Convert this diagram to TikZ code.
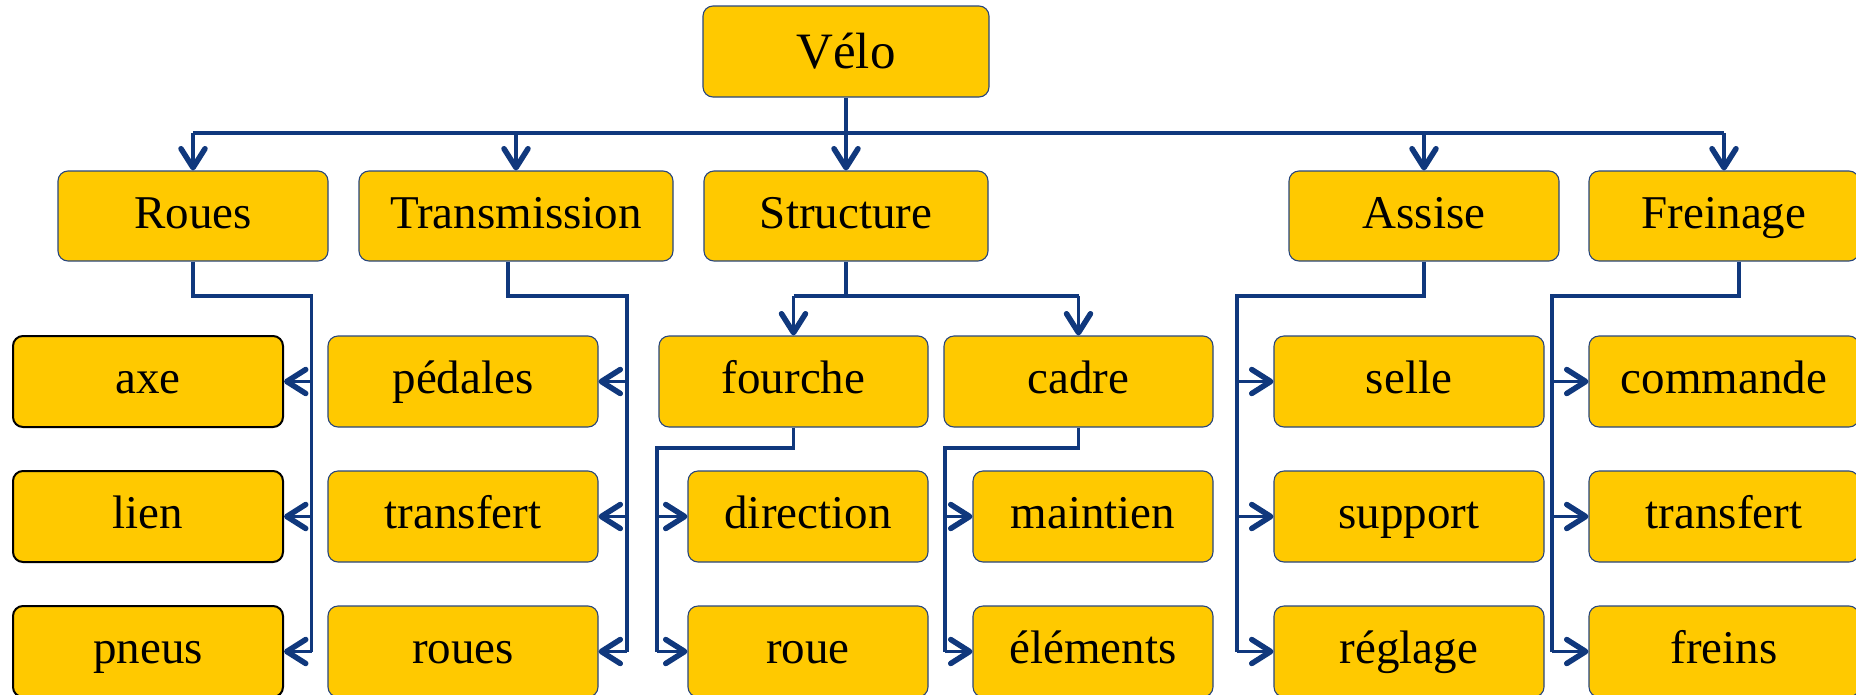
\documentclass[tikz,border=0pt]{standalone}
\usepackage{fontspec}
\setmainfont{Liberation Serif}
\usetikzlibrary{arrows.meta}
\definecolor{boxfill}{RGB}{255,201,0}
\definecolor{boxedge}{RGB}{40,70,125}
\definecolor{wire}{RGB}{16,56,125}
\tikzset{
  box/.style={draw=boxedge, line width=1.1pt, fill=boxfill, rounded corners=10pt,
    inner sep=0pt, minimum width=270pt, minimum height=91pt,
    text height=34pt, text depth=10pt, font=\fontsize{47}{53}\selectfont},
  darkbox/.style={box, draw=black, line width=2pt},
  wireline/.style={draw=wire, line width=3.2pt},
  feed/.style={wireline, -{Straight Barb[length=19pt,width=24pt,line width'=5.5pt,round]}},
}
\begin{document}
\begin{tikzpicture}[x=1pt,y=-1pt]
\useasboundingbox (0,0) rectangle (1856,694);

% root
\node[box, minimum width=286pt, text height=42pt, text depth=9pt,
      font=\fontsize{51}{57}\selectfont] (velo) at (846,51.5) {Vélo};

% first level
\node[box, minimum height=90pt] (roues)  at (193,216)  {Roues};
\node[box, minimum height=90pt, minimum width=314pt] (trans) at (516,216) {Transmission};
\node[box, minimum height=90pt, minimum width=284pt] (struct) at (846,216) {Structure};
\node[box, minimum height=90pt] (assise) at (1424,216) {Assise};
\node[box, minimum height=90pt] (frein)  at (1724,216) {Freinage};

% Roues children
\node[darkbox] (axe)   at (148,381.5) {axe};
\node[darkbox] (lien)  at (148,516.5) {lien};
\node[darkbox] (pneus) at (148,651.5) {pneus};

% Transmission children
\node[box] (pedales)   at (463,381.5) {pédales};
\node[box] (trtrans)   at (463,516.5) {transfert};
\node[box] (trroues)   at (463,651.5) {roues};

% Structure children
\node[box, minimum width=269pt] (fourche) at (793.5,381.5) {fourche};
\node[box, minimum width=269pt] (cadre)   at (1078.5,381.5) {cadre};
\node[box, minimum width=240pt] (direction) at (808,516.5) {direction};
\node[box, minimum width=240pt] (roue)      at (808,651.5) {roue};
\node[box, minimum width=240pt] (maintien)  at (1093,516.5) {maintien};
\node[box, minimum width=240pt] (elements)  at (1093,651.5) {éléments};

% Assise children
\node[box] (selle)   at (1409,381.5) {selle};
\node[box] (support) at (1409,516.5) {support};
\node[box] (reglage) at (1409,651.5) {réglage};

% Freinage children
\node[box] (commande) at (1724,381.5) {commande};
\node[box] (frtrans)  at (1724,516.5) {transfert};
\node[box] (freins)   at (1724,651.5) {freins};

% routing points
\coordinate (bus) at (846,133);
\coordinate (rb)  at (311.5,296);
\coordinate (tb)  at (627,296);
\coordinate (sb)  at (846,296);
\coordinate (ab)  at (1237,296);
\coordinate (fb)  at (1552,296);
\coordinate (fkb) at (657,448);
\coordinate (cdb) at (945,448);

% root to first level
\draw[wireline] (roues.north |- bus) -- (frein.north |- bus);
\draw[feed] (velo.south) -- (struct.north);
\foreach \n in {roues,trans,assise,frein}
  \draw[feed] (\n.north |- bus) -- (\n.north);

% Roues
\draw[wireline] (roues.south) |- (rb) -- (rb |- pneus.east);
\foreach \n in {axe,lien,pneus}
  \draw[feed] (rb |- \n.east) -- (\n.east);

% Transmission
\draw[wireline] ([xshift=-8pt]trans.south) |- (tb) -- (tb |- trroues.east);
\foreach \n in {pedales,trtrans,trroues}
  \draw[feed] (tb |- \n.east) -- (\n.east);

% Structure
\draw[wireline] (struct.south) -- (sb);
\draw[wireline] (fourche.north |- sb) -- (cadre.north |- sb);
\draw[feed] (fourche.north |- sb) -- (fourche.north);
\draw[feed] (cadre.north |- sb) -- (cadre.north);

% fourche
\draw[wireline] (fourche.south) |- (fkb) -- (fkb |- roue.west);
\foreach \n in {direction,roue}
  \draw[feed] (fkb |- \n.west) -- (\n.west);

% cadre
\draw[wireline] (cadre.south) |- (cdb) -- (cdb |- elements.west);
\foreach \n in {maintien,elements}
  \draw[feed] (cdb |- \n.west) -- (\n.west);

% Assise
\draw[wireline] (assise.south) |- (ab) -- (ab |- reglage.west);
\foreach \n in {selle,support,reglage}
  \draw[feed] (ab |- \n.west) -- (\n.west);

% Freinage
\draw[wireline] ([xshift=15pt]frein.south) |- (fb) -- (fb |- freins.west);
\foreach \n in {commande,frtrans,freins}
  \draw[feed] (fb |- \n.west) -- (\n.west);
\end{tikzpicture}
\end{document}
